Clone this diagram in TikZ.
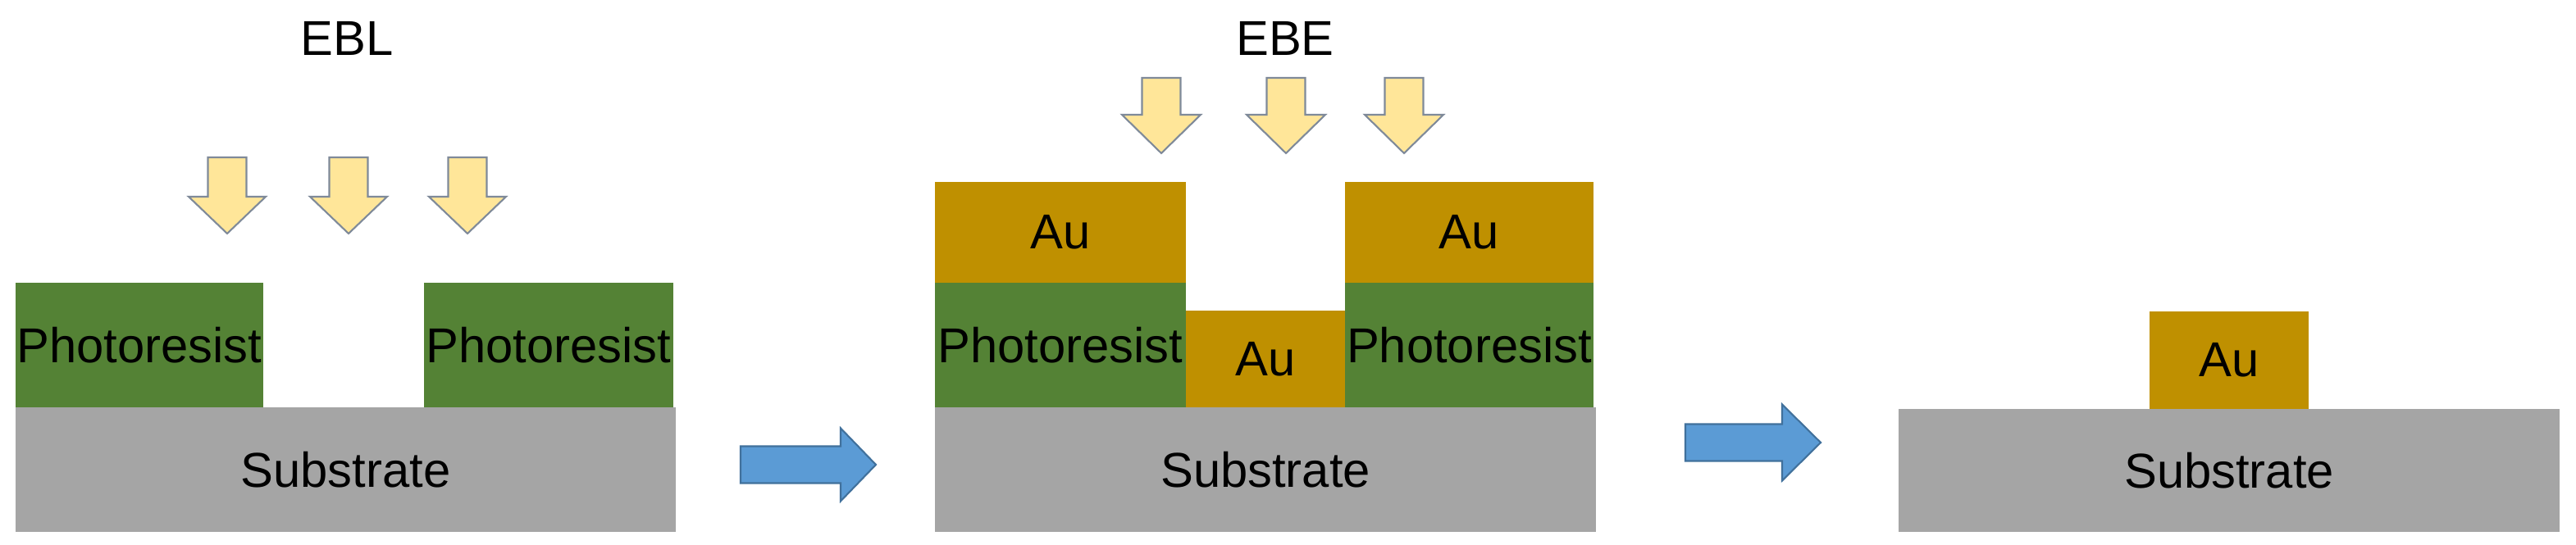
\documentclass[tikz,border=0pt]{standalone}
\usepackage{fontspec}
\setmainfont{Liberation Sans}
\usepackage{tikz}
\usetikzlibrary{positioning}
\definecolor{resistc}{HTML}{548235}
\definecolor{goldc}{HTML}{BF9000}
\definecolor{substc}{HTML}{A5A5A5}
\definecolor{beamc}{HTML}{FFE699}
\definecolor{beamline}{HTML}{7F8A99}
\definecolor{flowc}{HTML}{5B9BD5}
\definecolor{flowline}{HTML}{41719C}

\begin{document}
\begin{tikzpicture}[font=\fontsize{17}{20}\selectfont,
      layer/.style={inner sep=0pt, outer sep=0pt, align=center},
      subst/.style={layer, fill=substc, minimum width=8.05cm, minimum height=1.52cm},
      resist/.style={layer, fill=resistc, minimum height=1.52cm},
      gold/.style={layer, fill=goldc},
      beam/.style={fill=beamc, draw=beamline, line width=0.6pt, line join=miter},
      flow/.style={fill=flowc, draw=flowline, line width=0.6pt}]
    \useasboundingbox (0,0) rectangle (31.41,6.65);
    % electron beam lithography
    \node (ebl) at (4.23,6.18) {EBL};
    \node[subst, anchor=south west] (subA) at (0.19,0.16) {Substrate};
    \node[resist, minimum width=3.02cm, anchor=south west] (prA1) at (subA.north west) {Photoresist};
    \node[resist, minimum width=3.04cm, anchor=south east] (prA2) at ([xshift=-0.03cm]subA.north east) {Photoresist};
    \foreach \x in {2.77,4.25,5.70}
      \draw[beam, shift={(\x,4.73)}] (-0.235,0) -- (0.235,0) -- (0.235,-0.48) -- (0.47,-0.48) -- (0,-0.93) -- (-0.47,-0.48) -- (-0.235,-0.48) -- cycle;
    \draw[flow, shift={(9.03,0.98)}] (0,-0.225) -- (1.22,-0.225) -- (1.22,-0.445) -- (1.65,0) -- (1.22,0.445) -- (1.22,0.225) -- (0,0.225) -- cycle;
    % electron beam evaporation
    \node (ebe) at (15.67,6.18) {EBE};
    \node[subst, minimum width=8.06cm, anchor=south west] (subB) at (11.40,0.16) {Substrate};
    \node[resist, minimum width=3.06cm, anchor=south west] (prB1) at (subB.north west) {Photoresist};
    \node[gold, minimum width=3.06cm, minimum height=1.23cm, anchor=south west] (auB1) at (prB1.north west) {Au};
    \node[gold, minimum width=1.94cm, minimum height=1.18cm, anchor=south west] (auB2) at (prB1.south east) {Au};
    \node[resist, minimum width=3.03cm, anchor=south west] (prB2) at (auB2.south east) {Photoresist};
    \node[gold, minimum width=3.03cm, minimum height=1.23cm, anchor=south west] (auB3) at (prB2.north west) {Au};
    \foreach \x in {14.16,15.68,17.12}
      \draw[beam, shift={(\x,5.70)}] (-0.235,0) -- (0.235,0) -- (0.235,-0.45) -- (0.48,-0.45) -- (0,-0.92) -- (-0.48,-0.45) -- (-0.235,-0.45) -- cycle;
    \draw[flow, shift={(20.55,1.25)}] (0,-0.225) -- (1.18,-0.225) -- (1.18,-0.465) -- (1.65,0) -- (1.18,0.465) -- (1.18,0.225) -- (0,0.225) -- cycle;
    % lift-off
    \node[subst, minimum width=8.06cm, minimum height=1.50cm, anchor=south west] (subC) at (23.15,0.16) {Substrate};
    \node[gold, minimum width=1.94cm, minimum height=1.19cm, anchor=south west] (auC) at ([xshift=3.06cm]subC.north west) {Au};
\end{tikzpicture}
\end{document}
